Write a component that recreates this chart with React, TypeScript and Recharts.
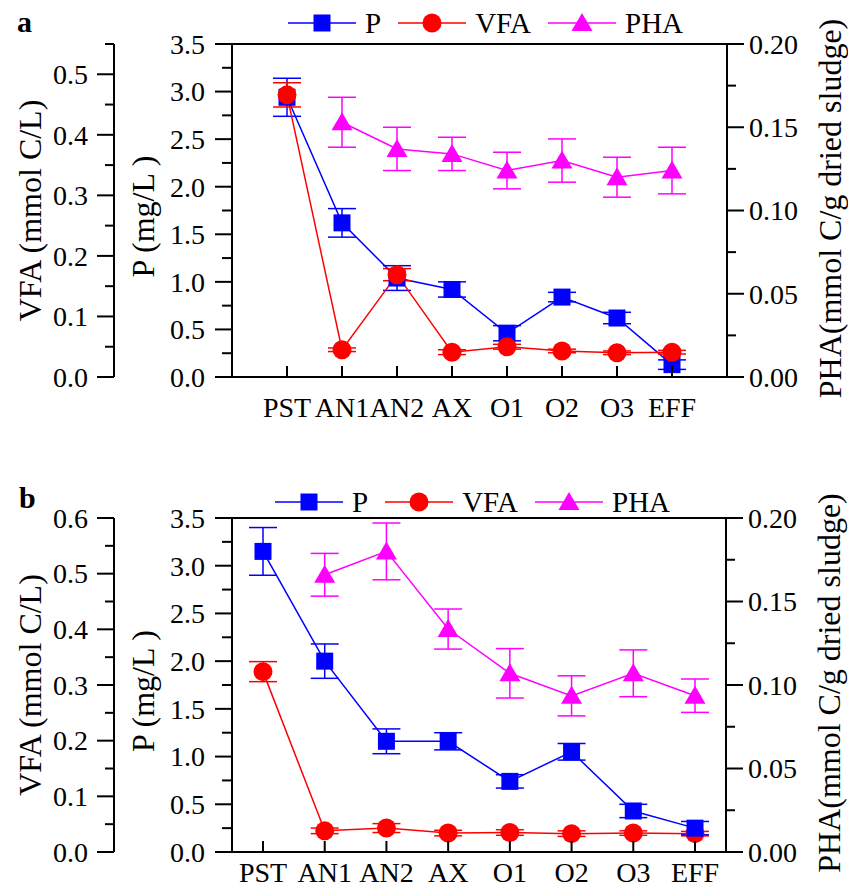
import React from "react";
import { LineChart, Line, XAxis, YAxis, ErrorBar, ReferenceLine, Legend } from "recharts";

const stages = ["PST", "AN1", "AN2", "AX", "O1", "O2", "O3", "EFF"];

// panel a
const pA = [2.94, 1.62, 1.04, 0.92, 0.46, 0.84, 0.62, 0.13];
const pAErr = [0.2, 0.15, 0.13, 0.08, 0.08, 0.05, 0.06, 0.05];
const vfaA = [0.466, 0.045, 0.169, 0.041, 0.05, 0.043, 0.04, 0.041];
const vfaAErr = [0.02, 0.003, 0.01, 0.004, 0.004, 0.003, 0.003, 0.003];
const phaA = [null, 0.153, 0.137, 0.134, 0.124, 0.13, 0.12, 0.124];
const phaAErr = [null, 0.015, 0.013, 0.01, 0.011, 0.013, 0.012, 0.014];

// panel b
const pB = [3.15, 2.0, 1.16, 1.16, 0.74, 1.05, 0.43, 0.25];
const pBErr = [0.25, 0.18, 0.13, 0.09, 0.07, 0.087, 0.07, 0.07];
const vfaB = [0.324, 0.038, 0.043, 0.034, 0.035, 0.033, 0.034, 0.033];
const vfaBErr = [0.018, 0.005, 0.008, 0.005, 0.005, 0.005, 0.004, 0.004];
const phaB = [null, 0.166, 0.18, 0.1335, 0.107, 0.0935, 0.107, 0.0936];
const phaBErr = [null, 0.0128, 0.017, 0.012, 0.0148, 0.012, 0.014, 0.01];

const vfaTicksA = [0, 0.05, 0.1, 0.15, 0.2, 0.25, 0.3, 0.35, 0.4, 0.45, 0.5, 0.55];
const vfaTicksB = [0, 0.05, 0.1, 0.15, 0.2, 0.25, 0.3, 0.35, 0.4, 0.45, 0.5, 0.55, 0.6];
const pTicks = [0, 0.25, 0.5, 0.75, 1, 1.25, 1.5, 1.75, 2, 2.25, 2.5, 2.75, 3, 3.25, 3.5];
const phaTicks = [0, 0.025, 0.05, 0.075, 0.1, 0.125, 0.15, 0.175, 0.2];

const FONT = '"Liberation Serif", "Times New Roman", serif';
const BLUE = "#0000ff";
const RED = "#ff0000";
const MAG = "#ff00ff";

function rows(p: number[], pe: number[], v: number[], ve: number[], h: (number | null)[], he: (number | null)[]) {
  return stages.map((s, i) => ({ stage: s, p: p[i], pErr: pe[i], vfa: v[i], vfaErr: ve[i], pha: h[i], phaErr: he[i] }));
}
const dataA = rows(pA, pAErr, vfaA, vfaAErr, phaA, phaAErr);
const dataB = rows(pB, pBErr, vfaB, vfaBErr, phaB, phaBErr);

type Shape = "square" | "circle" | "triangle";

function marker(shape: Shape, color: string, cx: number, cy: number, key?: any) {
  if (shape === "square") return <rect key={key} x={cx - 8.5} y={cy - 8.5} width={17} height={17} fill={color} />;
  if (shape === "circle") return <circle key={key} cx={cx} cy={cy} r={9.5} fill={color} />;
  return <polygon key={key} points={`${cx},${cy - 10} ${cx + 10.5},${cy + 8} ${cx - 10.5},${cy + 8}`} fill={color} />;
}

const dot = (shape: Shape, color: string) => (props: any) => {
  if (props.cy == null || isNaN(props.cy)) return <g key={`e-${props.index}`} />;
  return marker(shape, color, props.cx, props.cy, `${shape}-${props.index}`);
};

const yTick = (side: "left" | "right", step: number, digits: number, minorLen: number, gap: number) => (props: any) => {
  const { x, y, payload } = props;
  const v = payload.value;
  const major = Math.abs(v / step - Math.round(v / step)) < 1e-6;
  const dir = side === "left" ? -1 : 1;
  const len = major ? 17 : minorLen;
  return (
    <g>
      <line x1={x} x2={x + dir * len} y1={y} y2={y} stroke="#000" strokeWidth={2} />
      {major && (
        <text x={x + dir * gap} y={y} dy="0.35em" textAnchor={side === "left" ? "end" : "start"}
          fontSize={28} fontFamily={FONT} fill="#000">
          {v.toFixed(digits)}
        </text>
      )}
    </g>
  );
};

const xTick = (labelDy: number) => (props: any) => {
  const { x, y, payload } = props;
  return (
    <g>
      <line x1={x} x2={x} y1={y} y2={y - 11} stroke="#000" strokeWidth={2} />
      <text x={x} y={y + labelDy} textAnchor="middle" fontSize={28} fontFamily={FONT} fill="#000">
        {payload.value}
      </text>
    </g>
  );
};

const yTitle = (text: string, dx: number, dy: number) => ({
  content: (props: any) => {
    const vb = props.viewBox;
    const cx = vb.x + dx;
    const cy = vb.y + vb.height / 2 + dy;
    return (
      <text x={cx} y={cy} transform={`rotate(-90 ${cx} ${cy})`} textAnchor="middle" dominantBaseline="central"
        fontSize={32} fontFamily={FONT} fill="#000">
        {text}
      </text>
    );
  },
});

const legendItems: { name: string; color: string; shape: Shape }[] = [
  { name: "P", color: BLUE, shape: "square" },
  { name: "VFA", color: RED, shape: "circle" },
  { name: "PHA", color: MAG, shape: "triangle" },
];

function LegendRow() {
  return (
    <div style={{ display: "flex", alignItems: "center", fontFamily: FONT, fontSize: 29, lineHeight: "30px" }}>
      {legendItems.map((it) => (
        <div key={it.name} style={{ display: "flex", alignItems: "center", marginRight: 17 }}>
          <svg width={68} height={24} style={{ marginRight: 9 }}>
            <line x1={0} x2={68} y1={12} y2={12} stroke={it.color} strokeWidth={1.5} />
            {marker(it.shape, it.color, 34, 12)}
          </svg>
          <span>{it.name}</span>
        </div>
      ))}
    </div>
  );
}

const axisLine = { stroke: "#000", strokeWidth: 2 };

function Panel(props: {
  data: any[]; height: number; top: number; bottom: number; xHeight: number; padding: number;
  vfaTicks: number[]; vfaMax: number; phaWidth: number; legendTop: number; legendLeft: number;
  labelDy: number; vfaFirst?: boolean;
}) {
  const { data, height, top, bottom, xHeight, padding, vfaTicks, vfaMax, phaWidth, legendTop, legendLeft, labelDy, vfaFirst } = props;
  const pLine = (
    <Line key="p" yAxisId="p" dataKey="p" stroke={BLUE} strokeWidth={1.5} dot={dot("square", BLUE)} activeDot={false} isAnimationActive={false}>
      <ErrorBar dataKey="pErr" width={14} stroke={BLUE} strokeWidth={1.5} direction="y" isAnimationActive={false} />
    </Line>
  );
  const vLine = (
    <Line key="v" yAxisId="vfa" dataKey="vfa" stroke={RED} strokeWidth={1.5} dot={dot("circle", RED)} activeDot={false} isAnimationActive={false}>
      <ErrorBar dataKey="vfaErr" width={14} stroke={RED} strokeWidth={1.5} direction="y" isAnimationActive={false} />
    </Line>
  );
  return (
    <LineChart width={848} height={height} data={data} margin={{ top, right: 0, bottom, left: 14 }}>
      <XAxis dataKey="stage" height={xHeight} padding={{ left: padding, right: padding }} interval={0}
        tickSize={0} tickMargin={0} tickLine={false} axisLine={axisLine} tick={xTick(labelDy)} />
      <YAxis yAxisId="p" orientation="left" width={118} domain={[0, 3.5]} ticks={pTicks} allowDataOverflow interval={0}
        tickSize={0} tickMargin={0} tickLine={false} axisLine={axisLine} tick={yTick("left", 0.5, 1, 10, 27)}
        label={yTitle("P (mg/L )", 29, 6)} />
      <YAxis yAxisId="vfa" orientation="left" width={100} domain={[0, vfaMax]} ticks={vfaTicks} allowDataOverflow interval={0}
        tickSize={0} tickMargin={0} tickLine={false} axisLine={axisLine} tick={yTick("left", 0.1, 1, 9, 26)}
        label={yTitle("VFA (mmol C/L)", 16, 0)} />
      <YAxis yAxisId="pha" orientation="right" width={phaWidth} domain={[0, 0.2]} ticks={phaTicks} allowDataOverflow interval={0}
        tickSize={0} tickMargin={0} tickLine={false} axisLine={axisLine} tick={yTick("right", 0.05, 2, 9, 22)}
        label={yTitle("PHA(mmol C/g dried sludge)", 103, -2)} />
      <ReferenceLine yAxisId="p" y={3.5} stroke="#000" strokeWidth={2} ifOverflow="visible" />
      <Legend layout="horizontal" verticalAlign="middle" align="center"
        wrapperStyle={{ top: legendTop, left: legendLeft, width: 520, height: 30 }} content={() => <LegendRow />} />
      {vfaFirst ? [vLine, pLine] : [pLine, vLine]}
      <Line yAxisId="pha" dataKey="pha" stroke={MAG} strokeWidth={1.5} dot={dot("triangle", MAG)} activeDot={false} isAnimationActive={false}>
        <ErrorBar dataKey="phaErr" width={14} stroke={MAG} strokeWidth={1.5} direction="y" isAnimationActive={false} />
      </Line>
    </LineChart>
  );
}

export default function App() {
  return (
    <div style={{ position: "absolute", left: 0, top: 0, width: 848, height: 893, background: "#fff" }}>
      <Panel data={dataA} height={446} top={44} bottom={9} xHeight={60} padding={55} vfaTicks={vfaTicksA} vfaMax={0.55}
        phaWidth={121} legendTop={8} legendLeft={288} labelDy={40} />
      <Panel data={dataB} height={447} top={72} bottom={6} xHeight={35} padding={31} vfaTicks={vfaTicksB} vfaMax={0.6}
        phaWidth={122} legendTop={41} legendLeft={275} labelDy={30} vfaFirst />
      <svg width={848} height={893} style={{ position: "absolute", left: 0, top: 0, pointerEvents: "none" }}>
        <text x={17} y={32} fontSize={30} fontWeight="bold" fontFamily={FONT}>a</text>
        <text x={19} y={508} fontSize={30} fontWeight="bold" fontFamily={FONT}>b</text>
      </svg>
    </div>
  );
}
